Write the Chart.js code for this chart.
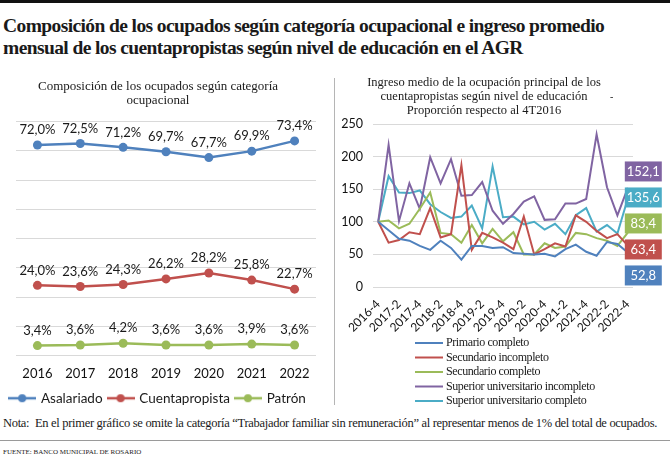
<!DOCTYPE html>
<html lang="es">
<head>
<meta charset="utf-8">
<title>Ocupados y cuentapropistas en el AGR</title>
<script src="https://cdn.jsdelivr.net/npm/chart.js@4.4.1/dist/chart.umd.min.js"></script>
<style>
  body { margin: 0; background: #fff; }
  #page { position: relative; width: 670px; height: 457px; overflow: hidden; background: #fff;
          font-family: 'Liberation Serif', serif; color: #1a1a1a; }
  .bar { position: absolute; left: 0; top: 0; width: 670px; height: 3px; background: #111; }
  h1 { position: absolute; left: 3px; top: 15px; margin: 0; font-size: 19.5px; line-height: 22px;
       font-weight: bold; letter-spacing: -0.6px; white-space: nowrap; }
  .sep { position: absolute; left: 334px; top: 78px; width: 1px; height: 327px; background: #b5b5b5; }
  #left { position: absolute; left: 0; top: 70px; }
  #right { position: absolute; left: 335px; top: 70px; }
  .nota { position: absolute; left: 3px; top: 416px; font-size: 12.5px; letter-spacing: -0.3px; white-space: nowrap; }
  .rule { position: absolute; left: 0; top: 440px; width: 670px; height: 1px; background: #9a9a9a; }
  .fuente { position: absolute; left: 3px; top: 448px; font-size: 7px; white-space: nowrap; }
</style>
</head>
<body>
<div id="page">
  <div class="bar"></div>
  <h1>Composición de los ocupados según categoría ocupacional e ingreso promedio<br>mensual de los cuentapropistas según nivel de educación en el AGR</h1>
  <canvas id="left" width="334" height="345"></canvas>
  <div class="sep"></div>
  <canvas id="right" width="335" height="345"></canvas>
  <div class="nota">Nota:&nbsp; En el primer gráfico se omite la categoría “Trabajador familiar sin remuneración” al representar menos de 1% del total de ocupados.</div>
  <div class="rule"></div>
  <div class="fuente">FUENTE: BANCO MUNICIPAL DE ROSARIO</div>
</div>
<script>
// Left chart: share of employed by category (%)
const years = ['2016', '2017', '2018', '2019', '2020', '2021', '2022'];
const asalariado = [72.0, 72.5, 71.2, 69.7, 67.7, 69.9, 73.4];
const cuentapropista = [24.0, 23.6, 24.3, 26.2, 28.2, 25.8, 22.7];
const patron = [3.4, 3.6, 4.2, 3.6, 3.6, 3.9, 3.6];

// Right chart: self-employed income, 4T2016 = 100
const quarters = [
  '2016-4',
  '2017-1', '2017-2', '2017-3', '2017-4',
  '2018-1', '2018-2', '2018-3', '2018-4',
  '2019-1', '2019-2', '2019-3', '2019-4',
  '2020-1', '2020-2', '2020-3', '2020-4',
  '2021-1', '2021-2', '2021-3', '2021-4',
  '2022-1', '2022-2', '2022-3', '2022-4'
];
const primarioCompleto = [100, 87, 74, 71, 63, 57, 71, 60, 42, 63, 63, 60, 61,
  52, 51, 50, 51, 47, 58, 65, 54, 48, 69, 66, 52.8];
const secundarioIncompleto = [100, 68, 72, 84, 81, 121, 76, 81, 187, 57, 83, 76, 68,
  58, 108, 50, 58, 67, 62, 110, 100, 86, 75, 81, 63.4];
const secundarioCompleto = [100, 102, 90, 97, 120, 145, 83, 81, 68, 95, 67, 89, 70,
  84, 50, 50, 67, 60, 62, 83, 81, 75, 71, 63, 83.4];
const superiorIncompleto = [100, 218, 101, 159, 120, 199, 159, 196, 140, 141, 161, 117, 97,
  112, 131, 139, 103, 104, 128, 128, 135, 234, 153, 110, 152.1];
const superiorCompleto = [100, 170, 145, 144, 148, 127, 115, 106, 108, 125, 90, 185, 107,
  108, 96, 100, 88, 97, 81, 110, 121, 85, 95, 82, 135.6];
const incomeTicks = [0, 50, 100, 150, 200, 250];

const COLORS = {
  blue: '#4f81bd',
  red: '#c0504d',
  green: '#9bbb59',
  purple: '#8064a2',
  cyan: '#4bacc6',
  grid: '#d9d9d9',
  text: '#1a1a1a',
};
const SANS = 'Lato, "Open Sans", sans-serif';
const SERIF = '"Liberation Serif", serif';

const comma = (v) => v.toFixed(1).replace('.', ',');

// legend marker: short line with a dot in the middle
function lineDot(color) {
  const c = document.createElement('canvas');
  c.width = 28;
  c.height = 10;
  const g = c.getContext('2d');
  g.strokeStyle = color;
  g.lineWidth = 2.5;
  g.beginPath();
  g.moveTo(0, 5);
  g.lineTo(28, 5);
  g.stroke();
  g.fillStyle = color;
  g.beginPath();
  g.arc(14, 5, 4, 0, Math.PI * 2);
  g.fill();
  return c;
}

// value labels above every point of the left chart
const pointLabels = {
  id: 'pointLabels',
  afterDatasetsDraw(chart) {
    const { ctx } = chart;
    ctx.save();
    ctx.font = '13px ' + SANS;
    ctx.fillStyle = COLORS.text;
    ctx.textAlign = 'center';
    ctx.textBaseline = 'middle';
    chart.data.datasets.forEach((ds, i) => {
      chart.getDatasetMeta(i).data.forEach((pt, j) => {
        ctx.fillText(comma(ds.data[j]) + '%', pt.x, pt.y - 15);
      });
    });
    ctx.restore();
  },
};

// coloured boxes with the last value, spread apart so they don't overlap
const endLabels = {
  id: 'endLabels',
  afterDatasetsDraw(chart) {
    const { ctx } = chart;
    const GAP = 26, W = 37, H = 20;
    const items = chart.data.datasets.map((ds, i) => {
      const pts = chart.getDatasetMeta(i).data;
      const pt = pts[pts.length - 1];
      return { x: pt.x, y: pt.y, v: ds.data[ds.data.length - 1], color: ds.borderColor };
    }).sort((a, b) => a.y - b.y);

    let groups = items.map((it) => ({ members: [it], center: it.y }));
    let merged = true;
    while (merged) {
      merged = false;
      for (let k = 0; k < groups.length - 1; k++) {
        const a = groups[k], b = groups[k + 1];
        const aBottom = a.center + (a.members.length - 1) * GAP / 2;
        const bTop = b.center - (b.members.length - 1) * GAP / 2;
        if (bTop - aBottom < GAP) {
          const members = a.members.concat(b.members);
          const center = members.reduce((s, m) => s + m.y, 0) / members.length;
          groups.splice(k, 2, { members, center });
          merged = true;
          break;
        }
      }
    }

    ctx.save();
    ctx.font = '13px ' + SANS;
    ctx.textAlign = 'center';
    ctx.textBaseline = 'middle';
    groups.forEach((g) => {
      const n = g.members.length;
      g.members.forEach((m, j) => {
        const y = g.center + (j - (n - 1) / 2) * GAP;
        ctx.fillStyle = m.color;
        ctx.fillRect(m.x - 3, y - H / 2, W, H);
        ctx.fillStyle = '#fff';
        ctx.fillText(comma(m.v), m.x - 3 + W / 2, y + 0.5);
      });
    });
    ctx.restore();
  },
};

// vertical legend under the rotated quarter labels
const lineList = {
  id: 'lineList',
  afterDraw(chart) {
    const { ctx, chartArea } = chart;
    const left = 80, len = 28, top = 56, row = 14.5;
    ctx.save();
    ctx.font = '12px ' + SERIF;
    if ('letterSpacing' in ctx) ctx.letterSpacing = '-0.4px';
    ctx.textBaseline = 'middle';
    ctx.fillStyle = COLORS.text;
    chart.data.datasets.forEach((ds, i) => {
      const y = chartArea.bottom + top + i * row;
      ctx.strokeStyle = ds.borderColor;
      ctx.lineWidth = 2;
      ctx.beginPath();
      ctx.moveTo(left, y);
      ctx.lineTo(left + len, y);
      ctx.stroke();
      ctx.fillText(ds.label, left + len + 3, y);
    });
    // stray dash next to the second title line
    ctx.font = '10px ' + SERIF;
    ctx.fillText('-', chart.width - 60, 27);
    ctx.restore();
  },
};

const legendMarks = [lineDot(COLORS.blue), lineDot(COLORS.red), lineDot(COLORS.green)];

new Chart(document.getElementById('left'), {
  type: 'line',
  data: {
    labels: years,
    datasets: [
      { label: 'Asalariado', data: asalariado, borderColor: COLORS.blue, backgroundColor: COLORS.blue },
      { label: 'Cuentapropista', data: cuentapropista, borderColor: COLORS.red, backgroundColor: COLORS.red },
      { label: 'Patrón', data: patron, borderColor: COLORS.green, backgroundColor: COLORS.green },
    ],
  },
  options: {
    responsive: false,
    animation: false,
    elements: {
      line: { borderWidth: 2.5, tension: 0 },
      point: { radius: 4.5, borderWidth: 0, hoverRadius: 4.5 },
    },
    layout: { padding: { right: 18, bottom: 0 } },
    scales: {
      x: {
        offset: true,
        grid: { display: false },
        border: { display: false },
        ticks: { color: '#111', font: { family: SANS, size: 13 }, padding: 3 },
        afterFit(scale) { scale.height = 30; },
      },
      y: {
        min: 0,
        max: 80,
        ticks: { display: false, stepSize: 10 },
        grid: { color: COLORS.grid, drawTicks: false },
        border: { display: false },
        afterFit(scale) { scale.width = 16; },
      },
    },
    plugins: {
      title: {
        display: true,
        text: ['Composición de los ocupados según categoría', 'ocupacional'],
        color: COLORS.text,
        font: { family: SERIF, size: 13, weight: 'normal', lineHeight: 1.1 },
        padding: { top: 9, bottom: 14 },
      },
      legend: {
        position: 'bottom',
        labels: {
          usePointStyle: true,
          pointStyleWidth: 24,
          boxHeight: 10,
          padding: 6,
          color: COLORS.text,
          font: { family: SANS, size: 13.5 },
          generateLabels(chart) {
            return Chart.defaults.plugins.legend.labels.generateLabels(chart)
              .map((item, i) => ({ ...item, pointStyle: legendMarks[i] }));
          },
        },
      },
      tooltip: { enabled: false },
    },
  },
  plugins: [pointLabels],
});

new Chart(document.getElementById('right'), {
  type: 'line',
  data: {
    labels: quarters,
    datasets: [
      { label: 'Primario completo', data: primarioCompleto, borderColor: COLORS.blue },
      { label: 'Secundario incompleto', data: secundarioIncompleto, borderColor: COLORS.red },
      { label: 'Secundario completo', data: secundarioCompleto, borderColor: COLORS.green },
      { label: 'Superior universitario incompleto', data: superiorIncompleto, borderColor: COLORS.purple },
      { label: 'Superior universitario completo', data: superiorCompleto, borderColor: COLORS.cyan },
    ],
  },
  options: {
    responsive: false,
    animation: false,
    elements: {
      line: { borderWidth: 2, tension: 0 },
      point: { radius: 0, hoverRadius: 0 },
    },
    layout: { padding: { right: 37, bottom: 78 } },
    scales: {
      x: {
        offset: true,
        grid: { display: false },
        border: { display: false },
        ticks: {
          autoSkip: false,
          maxRotation: 45,
          minRotation: 45,
          padding: 2,
          color: '#111',
          font: { family: SANS, size: 12 },
          callback(value, index) { return index % 2 === 0 ? quarters[index] : ''; },
        },
        afterFit(scale) { scale.height = 50; },
      },
      y: {
        min: incomeTicks[0],
        max: incomeTicks[incomeTicks.length - 1],
        afterBuildTicks(scale) { scale.ticks = incomeTicks.map((v) => ({ value: v })); },
        ticks: { color: '#111', font: { family: SANS, size: 12.5 }, padding: 10 },
        grid: { color: COLORS.grid, drawTicks: false },
        border: { display: false },
        afterFit(scale) { scale.width = 38; },
      },
    },
    plugins: {
      title: {
        display: true,
        text: [
          'Ingreso medio de la ocupación principal de los',
          'cuentapropistas según nivel de educación',
          'Proporción respecto al 4T2016',
        ],
        color: COLORS.text,
        font: { family: SERIF, size: 12.5, weight: 'normal', lineHeight: 1.12 },
        padding: { top: 6, bottom: 6 },
      },
      legend: { display: false },
      tooltip: { enabled: false },
    },
  },
  plugins: [endLabels, lineList],
});
</script>
</body>
</html>
